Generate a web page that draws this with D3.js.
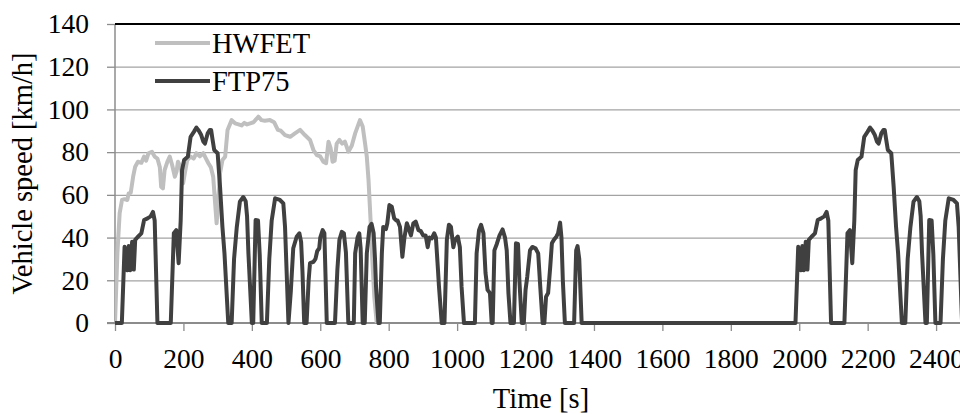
<!DOCTYPE html>
<html>
<head>
<meta charset="utf-8">
<script src="https://cdn.jsdelivr.net/npm/d3@7"></script>
<style>
  body { margin: 0; background: #fff; }
  svg { display: block; }
  svg text { font-family: "Liberation Serif", "Times New Roman", serif; }
</style>
</head>
<body>
<div id="chart"></div>
<script>
/* ---------------------- Data ---------------------- */
// FTP75 drive cycle, [time s, speed km/h]
var ftpPhase1 = [[0,0],[20,0],[28,35.7],[33,27],[36,24.7],[40,36],[45,24.7],[50,38],[55,25],[59,38.9],[67,40.4],[77,42],[85,48.2],[95,49],[104,49.9],[111,52],[116,48],[124,0],[163,0],[172,42],[179,43.5],[186,28],[192,48],[196,71.6],[202,76.3],[213,77.9],[221,87.2],[231,89.6],[238,91.5],[245,90],[252,88],[258,85],[263,84],[271,88.8],[277,90.4],[281,90.4],[285,86],[290,81],[300,79.5],[307,63.8],[314,45],[320,32.6],[331,0],[341,0],[348,30],[356,45],[365,56.8],[375,59],[382,57],[386,50],[390,32.6],[400,0],[404,0],[411,48.2],[418,48],[423,32],[429,0],[444,0],[451,30],[458,48],[468,58.4],[482,57.6],[492,56],[497,45],[507,0]];
var ftpPhase2 = [[514,15],[521,35],[531,40.4],[539,42],[544,38],[548,24],[553,0],[560,0],[566,20],[570,28],[580,28.6],[586,30],[591,33.6],[597,35],[600,40],[607,43.5],[612,42],[619,0],[643,0],[650,25],[656,39],[663,42.7],[669,42],[675,33],[682,0],[698,0],[702,32.6],[709,40],[714,42],[718,35],[724,0],[730,0],[736,32.6],[744,45],[750,46.4],[756,42],[760,30],[763,17],[770,0],[774,0],[780,32.6],[784,45],[792,44],[796,46.7],[802,55.2],[809,54.5],[816,49],[822,48],[826,48],[833,45],[840,31],[846,40],[853,46.7],[859,44],[865,41],[872,46.7],[879,47.5],[887,43.5],[894,43],[901,41],[908,41],[914,35.5],[919,40],[926,39.6],[933,42],[938,40],[944,25],[947,17],[955,0],[963,0],[970,39],[976,46],[982,45],[989,35.5],[994,39],[1002,40.5],[1008,35.5],[1013,17],[1020,0],[1052,0],[1057,32.6],[1064,43.5],[1070,46],[1077,42],[1083,23.4],[1089,15.5],[1096,14],[1101,0],[1104,0],[1109,34],[1116,37],[1124,41],[1133,43.8],[1140,40],[1145,34],[1150,14],[1156,0],[1166,0],[1172,37.3],[1178,37],[1182,20],[1189,0],[1195,0],[1200,15.5],[1205,21.7],[1213,34],[1220,35.6],[1229,35],[1237,32.6],[1243,17],[1250,0],[1255,0],[1260,12.3],[1266,14],[1272,26],[1277,37.3],[1283,39],[1290,40.4],[1295,42],[1301,47],[1305,40],[1309,20],[1315,0],[1342,0],[1348,34],[1352,36],[1357,30],[1364,0],[1369,0]];
var ftpSoakAndPhase3 = [[1969,0],[1989,0],[1997,35.7],[2002,27],[2005,24.7],[2009,36],[2014,24.7],[2019,38],[2024,25],[2028,38.9],[2036,40.4],[2046,42],[2054,48.2],[2064,49],[2073,49.9],[2080,52],[2085,48],[2093,0],[2132,0],[2141,42],[2148,43.5],[2155,28],[2161,48],[2165,71.6],[2171,76.3],[2182,77.9],[2190,87.2],[2200,89.6],[2207,91.5],[2214,90],[2221,88],[2227,85],[2232,84],[2240,88.8],[2246,90.4],[2250,90.4],[2254,86],[2259,81],[2269,79.5],[2276,63.8],[2283,45],[2289,32.6],[2300,0],[2310,0],[2317,30],[2325,45],[2334,56.8],[2344,59],[2351,57],[2355,50],[2359,32.6],[2369,0],[2373,0],[2380,48.2],[2387,48],[2392,32],[2398,0],[2413,0],[2420,30],[2427,48],[2437,58.4],[2451,57.6],[2461,56],[2466,45],[2476,0]];

// HWFET drive cycle, [time s, speed km/h]
var hwfet = [[0,0],[7,32.6],[13.6,51.4],[20.5,57.6],[28,58],[36,57.6],[40,60.7],[46,61],[53,68.5],[59,73.2],[67,75.5],[77,75],[85,77.9],[91,76],[98,79.5],[108,80.2],[116,77.9],[124,77],[131,73],[135,63.8],[140,63],[145,71.6],[153,75.5],[160,77.9],[167,74],[175,68.5],[180,71],[184,75.5],[192,73],[199,65.4],[204,70],[211,76.3],[221,77.9],[230,77],[238,79.5],[248,78],[258,79.5],[266,77],[273,74.8],[280,73],[287,68.5],[292,57.6],[297,46.7],[302,57.6],[307,70],[314,76.3],[322,77.9],[329,90.4],[341,95],[351,93.5],[361,93],[370,92.5],[378,93.7],[386,93],[395,93.5],[405,94],[419,96.6],[428,95],[438,94.7],[453,95],[465,94],[476,90.4],[485,90],[497,88],[512,87.2],[526,88.8],[541,90.4],[555,88],[570,85.7],[580,81],[590,78.6],[600,78],[609,75.5],[617,74.8],[624,84.9],[630,82],[636,75.5],[642,76],[648,84],[656,85.7],[664,84],[672,84.9],[682,80.2],[692,83],[702,88.8],[716,95],[724,92],[731,84],[736,77.9],[741,67],[745,54.5],[748,45],[752,30],[758,12],[765,0]];

var ftp75 = ftpPhase1.concat(ftpPhase2, ftpSoakAndPhase3);

var xTicks = [0, 200, 400, 600, 800, 1000, 1200, 1400, 1600, 1800, 2000, 2200, 2400];
var yTicks = [0, 20, 40, 60, 80, 100, 120, 140];
var seriesNames = ["HWFET", "FTP75"];

/* ---------------------- Layout ---------------------- */
var W = 960, H = 414;
var serif = '"Liberation Serif", "Times New Roman", serif';
var colors = {hwfet: "#bfbfbf", ftp: "#404040", grid: "#a3a3a3", axis: "#8c8c8c"};

var svg = d3.select("#chart").append("svg")
    .attr("width", W)
    .attr("height", H);

var x = d3.scaleLinear().domain([0, 2474]).range([115, 961.4]);
var y = d3.scaleLinear().domain([0, 140]).range([323, 24]);

svg.append("defs").append("clipPath").attr("id", "plot")
    .append("rect").attr("x", 115).attr("y", 0).attr("width", W - 115).attr("height", 340);

// Gridlines
var grid = svg.append("g")
    .attr("transform", "translate(115,0)")
    .call(d3.axisLeft(y).tickValues(yTicks.slice(1, -1)).tickSize(-(W - 115)).tickFormat(""));
grid.select(".domain").remove();
grid.selectAll("line").attr("stroke", colors.grid).attr("stroke-width", 1.3);

// Y axis
var yAxis = svg.append("g")
    .attr("transform", "translate(115,0)")
    .call(d3.axisLeft(y).tickValues(yTicks).tickSize(8).tickPadding(18));
yAxis.attr("font-family", serif).attr("font-size", 27.5);
yAxis.select(".domain").remove();
yAxis.selectAll("line").attr("stroke", colors.axis).attr("stroke-width", 1.3);
yAxis.selectAll("text").attr("fill", "#000");

svg.append("line")
    .attr("x1", 115).attr("x2", 115)
    .attr("y1", y(140)).attr("y2", y(0))
    .attr("stroke", colors.axis).attr("stroke-width", 1.5);

// Top border
svg.append("line")
    .attr("x1", 115).attr("x2", W)
    .attr("y1", y(140)).attr("y2", y(140))
    .attr("stroke", "#000").attr("stroke-width", 2);

// X axis
var xAxis = svg.append("g")
    .attr("transform", `translate(0,${y(0)})`)
    .call(d3.axisBottom(x).tickValues(xTicks).tickSize(8).tickPadding(17).tickFormat(d3.format("d")));
xAxis.attr("font-family", serif).attr("font-size", 27.5);
xAxis.select(".domain").remove();
xAxis.selectAll("line").attr("stroke", colors.axis).attr("stroke-width", 1.3);
xAxis.selectAll("text").attr("fill", "#000");

svg.append("line")
    .attr("x1", 107).attr("x2", W)
    .attr("y1", y(0)).attr("y2", y(0))
    .attr("stroke", colors.axis).attr("stroke-width", 2);

// Series
var line = d3.line().x(d => x(d[0])).y(d => y(d[1]));

var plot = svg.append("g").attr("clip-path", "url(#plot)");
plot.append("path")
    .datum(hwfet)
    .attr("d", line)
    .attr("fill", "none")
    .attr("stroke", colors.hwfet)
    .attr("stroke-width", 4)
    .attr("stroke-linejoin", "round");
plot.append("path")
    .datum(ftp75)
    .attr("d", line)
    .attr("fill", "none")
    .attr("stroke", colors.ftp)
    .attr("stroke-width", 4)
    .attr("stroke-linejoin", "round");

// Legend
var legend = svg.append("g");
var legendY = [43, 81];
var legendColors = [colors.hwfet, colors.ftp];
seriesNames.forEach((name, i) => {
    legend.append("line")
        .attr("x1", 155).attr("x2", 210)
        .attr("y1", legendY[i]).attr("y2", legendY[i])
        .attr("stroke", legendColors[i]).attr("stroke-width", 4);
    legend.append("text")
        .attr("x", 212).attr("y", legendY[i] + 10)
        .attr("font-family", serif)
        .attr("font-size", 28.5)
        .text(name);
});

// Axis titles
svg.append("text")
    .attr("x", 541).attr("y", 408)
    .attr("text-anchor", "middle")
    .attr("font-family", serif)
    .attr("font-size", 28.5)
    .text("Time [s]");

svg.append("text")
    .attr("transform", "translate(32,173.5) rotate(-90)")
    .attr("text-anchor", "middle")
    .attr("font-family", serif)
    .attr("font-size", 28.5)
    .text("Vehicle speed [km/h]");
</script>
</body>
</html>
